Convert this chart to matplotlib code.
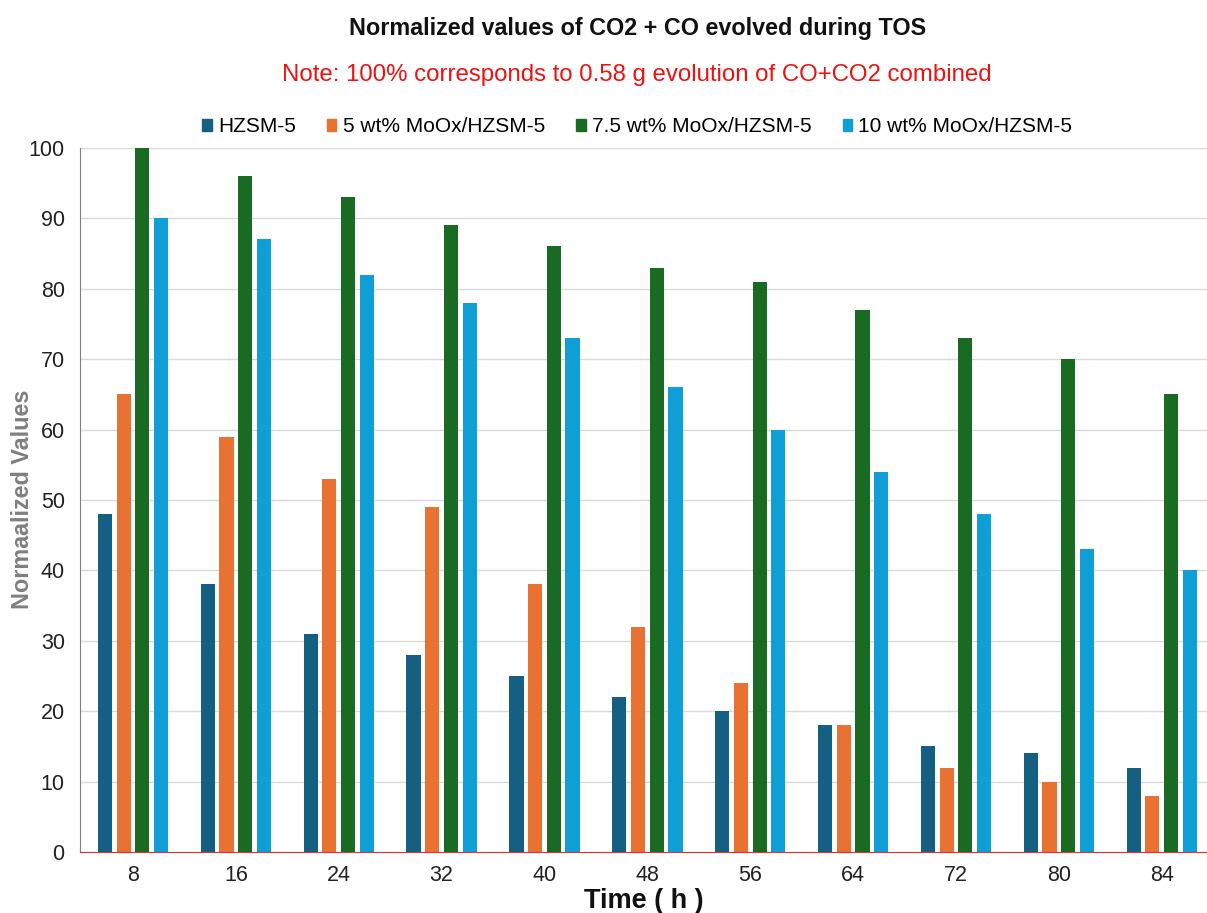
import matplotlib
matplotlib.use("Agg")
import matplotlib.pyplot as plt
import numpy as np
from matplotlib.patches import Patch

plt.rcParams['font.family'] = ['Liberation Sans', 'DejaVu Sans']

times = ["8", "16", "24", "32", "40", "48", "56", "64", "72", "80", "84"]
series_names = ["HZSM-5", "5 wt% MoOx/HZSM-5", "7.5 wt% MoOx/HZSM-5", "10 wt% MoOx/HZSM-5"]
hzsm = [48, 38, 31, 28, 25, 22, 20, 18, 15, 14, 12]
mo5 = [65, 59, 53, 49, 38, 32, 24, 18, 12, 10, 8]
mo75 = [100, 96, 93, 89, 86, 83, 81, 77, 73, 70, 65]
mo10 = [90, 87, 82, 78, 73, 66, 60, 54, 48, 43, 40]
colors = ["#156082", "#E97132", "#196B24", "#0F9ED5"]

fig = plt.figure(figsize=(12.07, 9.13), dpi=100)
ax = fig.add_axes([0.0663, 0.0668, 0.9337, 0.7712])

x = np.arange(len(times))
pitch = 0.182
width = 0.138
for i, (vals, c, name) in enumerate(zip([hzsm, mo5, mo75, mo10], colors, series_names)):
    ax.bar(x + (i - 1.5) * pitch, vals, width=width, color=c, label=name, zorder=3)

ax.set_xlim(-0.515, 10.44)
ax.set_ylim(0, 100)
ax.set_yticks(range(0, 101, 10))
ax.set_xticks(x)
ax.set_xticklabels(times)
ax.grid(axis='y', color='#D9D9D9', linewidth=1, zorder=0)
ax.tick_params(axis='both', length=0, labelsize=15.5, colors='#222222', pad=11)
ax.tick_params(axis='x', pad=9)
for s in ['top', 'right']:
    ax.spines[s].set_visible(False)
ax.spines['left'].set_color('#7F7F7F')
ax.spines['bottom'].set_color('#E03030')
ax.spines['bottom'].set_zorder(4)

fig.text(0.0185, 0.4535, "Normaalized Values", rotation=90, ha='center', va='center',
         fontsize=16.8, fontweight='bold', color='#7F7F7F')
ax.set_xlabel("Time ( h )", fontsize=19.5, fontweight='bold', color='#111111', labelpad=2)

fig.text(0.528, 0.969, "Normalized values of CO2 + CO evolved during TOS", ha='center', va='center',
         fontsize=16.8, fontweight='bold', color='#111111')
fig.text(0.528, 0.918, "Note: 100% corresponds to 0.58 g evolution of CO+CO2 combined", ha='center', va='center',
         fontsize=17.3, color='#EE1111')

handles = [Patch(color=c, label=n) for c, n in zip(colors, series_names)]
fig.legend(handles=handles, loc='center', bbox_to_anchor=(0.528, 0.861), ncol=4, frameon=False,
           fontsize=15, handlelength=0.45, handleheight=0.45, handletextpad=0.3, columnspacing=1.5)

fig.savefig("out.png", dpi=100)
